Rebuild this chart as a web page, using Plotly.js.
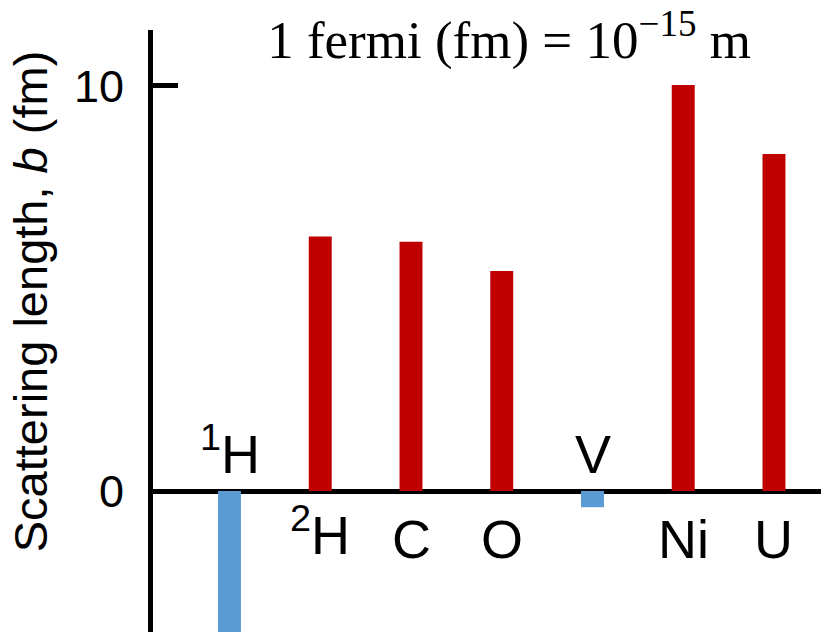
<!DOCTYPE html>
<html>
<head>
<meta charset="utf-8">
<script src="https://cdn.plot.ly/plotly-3.0.1.min.js"></script>
<style>
html,body{margin:0;padding:0;background:#fff;}
#chart{width:821px;height:633px;}
</style>
</head>
<body>
<div id="chart"></div>
<script>
// Data
const elements = ["1H", "2H", "C", "O", "V", "Ni", "U"];
const elementLabels = ["<sup>1</sup>H", "<sup>2</sup>H", "C", "O", "V", "Ni", "U"];
const scatteringLength = [-3.74, 6.28, 6.15, 5.43, -0.40, 10.02, 8.32];
const yTickVals = [0, 10];
const yTickText = ["0", "10"];

const RED = "#C00000";
const BLUE = "#5B9BD5";
const labelFont = {family: "Liberation Sans, Arial, sans-serif", size: 54, color: "#000"};

const trace = {
  type: "bar",
  x: elements,
  y: scatteringLength,
  width: 0.253,
  marker: {color: scatteringLength.map(v => v < 0 ? BLUE : RED), line: {width: 0}},
  hoverinfo: "x+y",
  showlegend: false
};

const annotations = elements.map((el, i) => {
  const neg = scatteringLength[i] < 0;
  const hasSup = elementLabels[i].indexOf("<sup>") >= 0;
  return {
    x: el, y: 0, xref: "x", yref: "y",
    text: elementLabels[i],
    showarrow: false,
    xanchor: "center",
    yanchor: neg ? "bottom" : "top",
    yshift: neg ? 5 : (hasSup ? -4 : -16),
    font: labelFont
  };
});

annotations.push({
  xref: "paper", yref: "paper",
  x: -0.183, y: 0.549,
  xanchor: "center", yanchor: "middle",
  textangle: -90,
  text: "Scattering length, <i>b</i> (fm)",
  showarrow: false,
  font: {family: "Liberation Sans, Arial, sans-serif", size: 47, color: "#000"}
});

const layout = {
  width: 821, height: 633,
  margin: {l: 153, r: 0, t: 30, b: 1, pad: 0},
  paper_bgcolor: "#fff", plot_bgcolor: "#fff",
  title: {
    text: "1 fermi (fm) = 10<sup>−15</sup> m",
    font: {family: "Liberation Serif, Times New Roman, serif", size: 53, color: "#000"},
    xref: "paper", x: 0.533, xanchor: "center",
    yref: "container", y: 0.938, yanchor: "middle"
  },
  xaxis: {
    type: "category",
    range: [-0.843, 6.518],
    showticklabels: false, ticks: "", showgrid: false, zeroline: false, showline: false,
    fixedrange: true
  },
  yaxis: {
    range: [-3.48, 11.38],
    tickvals: yTickVals, ticktext: yTickText,
    ticks: "inside", ticklen: 25, tickwidth: 5, tickcolor: "#000",
    tickfont: {family: "Liberation Sans, Arial, sans-serif", size: 45, color: "#000"},
    ticklabelstandoff: 15,
    showline: true, linewidth: 5, linecolor: "#000",
    showgrid: false,
    zeroline: true, zerolinewidth: 5, zerolinecolor: "#000",
    layer: "above traces",
    fixedrange: true
  },
  annotations: annotations
};

Plotly.newPlot("chart", [trace], layout, {displayModeBar: false, staticPlot: true});
</script>
</body>
</html>
